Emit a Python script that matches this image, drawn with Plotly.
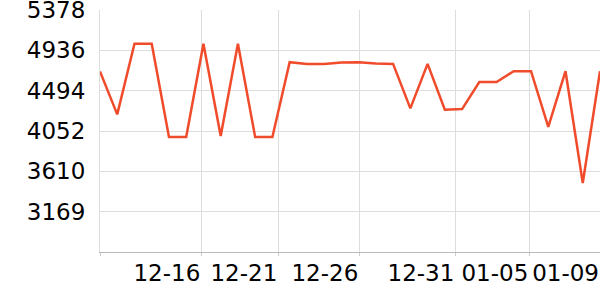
import plotly.graph_objects as go

# Data
values = [4705, 4235, 5008, 5008, 3986, 3986, 5008, 3997, 5008, 3986,
          3986, 4807, 4788, 4788, 4804, 4807, 4793, 4788, 4301, 4788,
          4286, 4293, 4590, 4590, 4708, 4708, 4099, 4708, 3483, 4708]
x_tick_labels = ["", "12-16", "12-21", "12-26", "12-31", "01-05", "01-09"]
x_tick_pos = [0, 5.876, 10.34, 15.04, 20.61, 24.90, 29]
y_tick_labels = ["3169", "3610", "4052", "4494", "4936", "5378"]
y_min, y_max = 2727.2, 5378.0

x = list(range(len(values)))
step = (y_max - y_min) / 6
y_tick_vals = [y_min + step * (i + 1) for i in range(6)]

fig = go.Figure()
fig.add_trace(go.Scatter(
    x=x, y=values, mode="lines",
    line=dict(color="#f04b2b", width=2.5),
    hoverinfo="skip",
))

fig.update_layout(
    width=600, height=300,
    margin=dict(l=100, r=0, t=10, b=48),
    paper_bgcolor="white", plot_bgcolor="white",
    showlegend=False,
    font=dict(family="DejaVu Sans", size=23, color="#000"),
    xaxis=dict(
        range=[0, len(values) - 1 + 1e-6],
        tickmode="array", tickvals=x_tick_pos, ticktext=x_tick_labels,
        tickangle=0, automargin=False,
        showgrid=True, gridcolor="#dddddd", gridwidth=1,
        showline=True, linecolor="#bbbbbb", linewidth=1,
        ticks="outside", ticklen=3, tickcolor="#cccccc",
        ticklabelposition="outside left",
        ticklabeloverflow="allow",
        zeroline=False,
    ),
    yaxis=dict(
        range=[y_min, y_max + 0.5],
        tickmode="array", tickvals=y_tick_vals, ticktext=y_tick_labels,
        automargin=False,
        showgrid=True, gridcolor="#dddddd", gridwidth=1,
        showline=True, linecolor="#dddddd", linewidth=1,
        ticks="", ticklabelstandoff=9,
        ticklabeloverflow="allow",
        zeroline=False,
    ),
)

fig.write_html("out.html")
